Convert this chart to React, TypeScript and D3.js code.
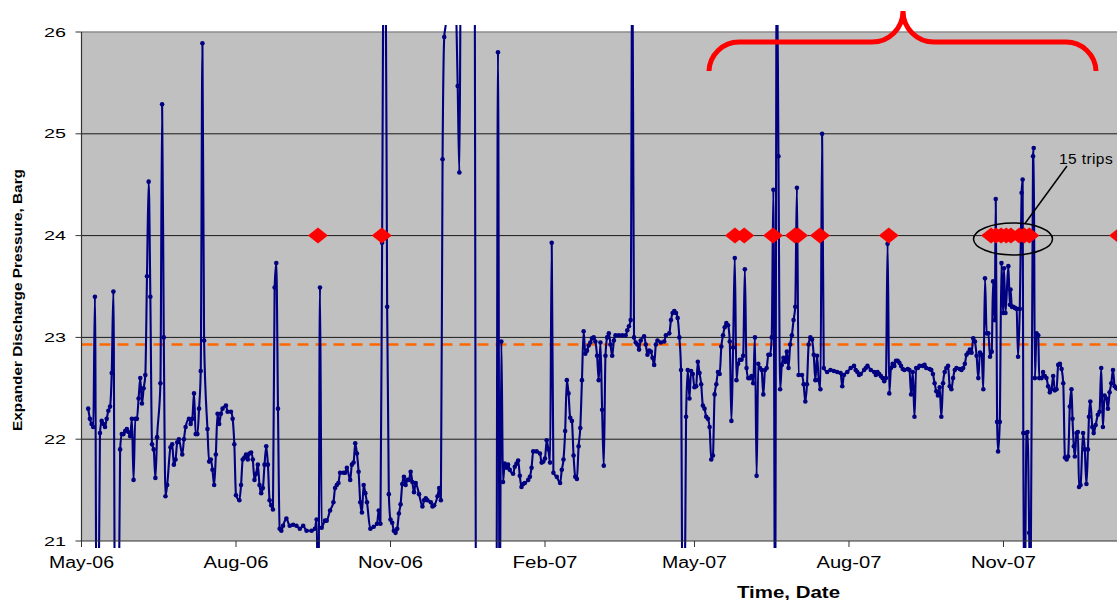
import React from "react";
import * as d3 from "d3";

// ---------- data ----------
const START = "2006-05-01"; // day 0 of the series

// day offsets since START
const dayOffset = [
  4, 5, 6, 7, 8, 9, 10, 11, 12, 13,
  14, 15, 16, 17, 18, 19, 20, 21, 22, 23,
  24, 25, 26, 27, 28, 29, 30, 31, 32, 33,
  34, 35, 36, 37, 38, 39, 40, 41, 42, 43,
  44, 45, 47, 48, 49, 50, 51, 53, 54, 55,
  56, 57, 58, 60, 61, 62, 64, 65, 66, 67,
  68, 69, 70, 71, 72, 73, 75, 76, 77, 78,
  79, 80, 81, 82, 83, 84, 86, 87, 89, 90,
  91, 92, 94, 95, 96, 97, 98, 99, 100, 101,
  102, 103, 104, 105, 106, 107, 108, 109, 110, 111,
  112, 113, 114, 115, 116, 117, 118,
  119, 120, 122, 124, 126, 128, 130, 132, 134, 137,
  139, 140, 141, 142, 143, 145, 146, 148, 150, 151,
  152, 153, 154, 156, 157, 158, 160, 161, 162, 163,
  164, 165, 166, 167, 168, 169, 170, 172, 174, 176,
  177, 178, 179, 180, 181, 182, 183, 184, 185, 186,
  187, 188, 189, 190, 191, 192, 193, 194, 195, 196,
  197, 198, 199, 201, 203, 204, 205, 206, 208, 209,
  210, 212, 213, 214, 215, 216, 217, 218, 219, 220,
  221, 222, 223, 224, 225, 226, 227, 228, 230, 232,
  234, 235, 237, 240, 243, 246, 247, 248, 249, 250,
  251,
  252, 253, 254, 255, 257, 258, 259, 260, 261, 262,
  263, 264, 266, 267, 268, 269, 271, 273, 274, 275,
  276, 277, 278, 279, 280, 281, 283, 285, 286, 287,
  288, 289, 290, 291, 292, 293, 294, 295, 296, 297,
  298, 299, 300, 301, 302, 303, 304, 305, 306, 307,
  308, 309, 310, 311, 312, 313, 314, 315, 316, 317,
  318, 320, 322, 324, 325, 326, 327, 328, 329, 330,
  331, 332, 333, 335, 336, 337, 338, 339, 340, 341,
  342, 343, 345, 347, 348, 350, 351, 352, 353, 354,
  355, 356, 357, 358, 359, 360, 361, 362, 363, 364,
  365, 366, 367, 368, 369, 370, 371, 372, 373, 374,
  375, 376, 377, 378, 379, 380, 381, 382, 383, 384,
  385, 386, 387, 388, 389, 390, 391, 392, 393, 394,
  395, 396, 397, 398, 399, 400, 401, 402, 403, 404,
  405, 406, 407, 408, 409, 410, 411, 412, 413, 414,
  415, 416, 417, 418, 419, 420, 421, 422, 423, 424,
  425, 426, 427, 429, 430, 431, 432, 433, 434, 435,
  436, 437, 438, 439, 440, 441, 442, 444, 446, 448,
  450, 452, 453, 454, 456, 458, 460, 461, 462, 463,
  464, 466, 467, 468, 470, 472, 473, 474, 475, 476,
  477, 478, 479, 480, 481, 482, 483, 484, 485, 486,
  487, 488, 489, 490, 492, 493, 494, 495, 496, 497,
  498, 499, 501, 502, 503, 505, 506, 507, 508, 509,
  510, 511, 512, 513, 514, 515, 516, 517, 518, 519,
  520, 521, 523, 524, 525, 526, 527, 528, 529, 530,
  531, 532, 533, 534, 535,
  536, 537, 538, 539, 540, 541, 542, 542.8, 543.8, 544.4,
  545.2, 545.8, 546.8, 547.8, 548.8, 549.3, 550.2, 551.9, 552.8, 553.2,
  554, 554.8, 555.8, 556.8, 557.7, 558.7, 559.8, 560.4, 560.8, 561.5,
  562.7, 563.3, 564.3, 565, 566.6, 567, 567.7, 568.7, 569.7, 570.3,
  571.7, 572.6, 573.6, 574.6, 575.6, 576.6, 577.6, 578.6, 579.6, 580.6,
  581.6, 582.6, 583.6, 584.6, 585.6, 586.6, 587.5, 588.5, 589.5, 590.1,
  590.9, 591.5, 592.5, 593.3, 594, 594.9, 596.4, 597.4, 598.4, 599.3,
  599.9, 600.7, 601.9, 602.7, 603.9, 605.2, 606.2, 607.2, 608.2, 609.2,
  610.2, 611.2, 612.2, 613.2, 614.2, 615.2, 616.2, 618,
];

// expander discharge pressure, barg (values above 26 / below 21 run off the chart)
const pressure = [
  22.3, 22.2, 22.15, 22.12, 23.4, 20, 20, 22.06, 22.18, 22.15,
  22.12, 22.2, 22.28, 22.32, 22.65, 23.45, 20, 20, 20, 21.9,
  22.05, 22.05, 22.08, 22.1, 22.07, 22.03, 22.2, 21.6, 22.2, 22.2,
  22.4, 22.6, 22.35, 22.5, 22.63, 23.6, 24.53, 23.4, 21.95, 21.9,
  21.62, 22.02, 22.55, 25.29, 23.0, 21.44, 21.55, 21.92, 21.95, 21.75,
  21.8, 21.97, 22.0, 21.85, 22.0, 22.12, 22.2, 22.15, 22.2, 22.45,
  22.05, 22.05, 22.3, 22.67, 25.89, 22.97, 22.1, 21.78, 21.8, 21.7,
  21.55, 21.85, 22.25, 22.15, 22.25, 22.3, 22.33, 22.27, 22.27, 22.2,
  21.95, 21.45, 21.4, 21.55, 21.8, 21.82, 21.85, 21.8, 21.86, 21.87,
  21.8, 21.6, 21.66, 21.75, 21.55, 21.47, 21.52, 21.75, 21.93, 21.75,
  21.4, 21.35, 21.31, 23.49, 23.73, 22.3, 21.12,
  21.1, 21.15, 21.22, 21.15, 21.16, 21.15, 21.12, 21.15, 21.1, 21.1,
  21.12, 21.21, 20, 23.49, 21.13, 21.2, 21.2, 21.3, 21.38, 21.52,
  21.55, 21.57, 21.67, 21.67, 21.67, 21.72, 21.6, 21.75, 21.77, 21.96,
  21.86, 21.68, 21.38, 21.28, 21.55, 21.47, 21.38, 21.12, 21.14, 21.17,
  21.3, 21.17, 23.93, 27, 27, 23.3, 21.46, 21.21, 21.18, 21.1,
  21.08, 21.12, 21.27, 21.36, 21.56, 21.63, 21.55, 21.6, 21.6, 21.68,
  21.58, 21.48, 21.57, 21.46, 21.34, 21.4, 21.42, 21.4, 21.38, 21.34,
  21.35, 21.44, 21.52, 21.4, 24.75, 25.95, 26.1, 27, 27, 27,
  26.1, 27, 26.3, 25.47, 24.62, 27, 26.1, 27, 27, 27,
  27, 20, 20, 20, 20, 20, 20, 25.8, 20, 22.96,
  21.58,
  21.76, 21.72, 21.75, 21.7, 21.66, 21.73, 21.76, 21.79, 21.64, 21.53,
  21.56, 21.57, 21.6, 21.63, 21.72, 21.88, 21.88, 21.86, 21.77, 21.78,
  21.81, 21.99, 21.9, 21.77, 23.93, 21.67, 21.63, 21.57, 21.7, 21.8,
  22.08, 22.58, 22.45, 22.21, 22.18, 21.84, 21.63, 21.61, 21.93, 22.11,
  22.58, 23.06, 22.84, 22.87, 22.92, 22.95, 22.99, 23.0, 22.96, 22.82,
  22.58, 22.95, 22.29, 21.74, 22.82, 23.0, 23.04, 22.93, 22.82, 22.97,
  23.02, 23.02, 23.02, 23.02, 23.07, 23.11, 23.17, 27, 23.0, 22.95,
  22.93, 22.88, 22.97, 23.01, 22.93, 22.83, 22.87, 22.86, 22.8, 22.73,
  22.93, 22.97, 22.95, 22.96, 23.02, 23.04, 23.17, 23.24, 23.26, 23.24,
  23.19, 23.0, 22.68, 20, 20, 22.22, 22.68, 22.4, 22.67, 22.64,
  22.51, 22.52, 22.76, 22.65, 22.54, 22.33, 22.3, 22.22, 22.2, 22.12,
  21.8, 21.84, 22.44, 22.54, 22.66, 22.64, 22.91, 23.02, 23.1, 23.14,
  23.12, 22.96, 22.18, 22.9, 23.78, 22.58, 22.74, 22.78, 22.78, 22.82,
  23.67, 22.7, 22.6, 22.6, 22.62, 22.55, 23.0, 21.64, 22.74, 22.7,
  22.68, 22.44, 22.68, 22.7, 22.83, 22.83, 23.0, 24.45, 20, 27,
  24.78, 22.49, 22.73, 22.8, 22.76, 22.86, 22.7, 22.93, 23.02, 23.17,
  23.3, 24.47, 22.63, 22.63, 22.54, 22.37, 22.54, 22.93, 23.0, 22.98,
  22.83, 22.58, 22.82, 22.58, 22.49, 25.0, 22.7, 22.66, 22.68, 22.67,
  22.66, 22.65, 22.52, 22.63, 22.66, 22.7, 22.72, 22.68, 22.66, 22.63,
  22.64, 22.68, 22.7, 22.72, 22.68, 22.66, 22.63, 22.66, 22.64, 22.62,
  22.6, 22.57, 22.6, 23.92, 22.45, 22.7, 22.74, 22.72, 22.77, 22.77,
  22.75, 22.72, 22.69, 22.68, 22.69, 22.68, 22.44, 22.66, 22.22, 22.7,
  22.7, 22.72, 22.72, 22.73, 22.7, 22.69, 22.68, 22.64, 22.55, 22.47,
  22.43, 22.51, 22.22, 22.55, 22.66, 22.7, 22.72, 22.52, 22.49, 22.6,
  22.68, 22.7, 22.69, 22.68, 22.7, 22.74, 22.83, 22.85, 22.88, 22.85,
  22.99, 22.96, 22.82, 22.6, 22.85,
  22.83, 22.49, 23.58, 23.04, 23.04, 22.81, 22.86, 23.55, 23.17, 24.36,
  22.17, 21.88, 22.17, 23.73, 23.24, 23.68, 23.24, 23.7, 23.32, 23.47,
  23.3, 23.3, 23.29, 23.28, 22.81, 23.28, 24.42, 24.55, 22.06, 20,
  22.06, 22.07, 21.08, 20, 24.78, 24.86, 22.6, 23.04, 23.02, 22.6,
  22.6, 22.66, 22.62, 22.6, 22.52, 22.46, 22.49, 22.62, 22.48, 22.49,
  22.73, 22.74, 22.69, 22.55, 21.82, 21.8, 21.83, 22.32, 22.49, 22.2,
  21.93, 21.83, 22.06, 22.07, 21.53, 21.55, 22.06, 21.9, 21.56, 21.9,
  22.22, 22.37, 22.12, 22.06, 22.14, 22.24, 22.27, 22.7, 22.12, 22.43,
  22.4, 22.3, 22.46, 22.55, 22.68, 22.52, 22.5, 22.45,
];

// compressor trips (plotted as red diamonds at the 24 barg line)
const tripDays = [140.8, 178.8, 389.1, 394.6, 411.8, 424.8, 426.7, 439.7, 480.7,
  541.6, 544.6, 547.6, 550.6, 553.4, 558.4, 561.4, 564.4, 617.8];
const tripLevel = 24;

const limitPressure = 22.93;

const yTicks = [21, 22, 23, 24, 25, 26];
const xTickDates = ["2006-05-01", "2006-08-01", "2006-11-01", "2007-02-01", "2007-05-01", "2007-08-01", "2007-11-01"];
const xTickLabels = ["May-06", "Aug-06", "Nov-06", "Feb-07", "May-07", "Aug-07", "Nov-07"];

const yTitle = "Expander Discharge Pressure, Barg";
const xTitle = "Time, Date";
const noteText = "15 trips";

// ---------- layout ----------
const W = 1119;
const H = 600;
const PL = 81.5;
const PR = 1117;
const PT = 32;
const PB = 541;
const FONT = "'Liberation Sans', Arial, Helvetica, sans-serif";

const parse = d3.timeParse("%Y-%m-%d");
const start = parse(START) as Date;
const toDate = (d: number) => new Date(start.getTime() + d * 86400000);

export default function App() {
  const x = d3.scaleTime().domain([start, toDate(616.6)]).range([PL, PR]);
  const y = d3.scaleLinear().domain([21, 26]).range([PB, PT]);

  const pts = dayOffset.map((d, i) => ({ date: toDate(d), v: pressure[i] }));
  const line = d3
    .line<{ date: Date; v: number }>()
    .x((p) => x(p.date))
    .y((p) => y(p.v))
    .curve(d3.curveMonotoneX);

  const diamond = (cx: number, cy: number) =>
    `M${cx - 10},${cy} L${cx},${cy - 8} L${cx + 10},${cy} L${cx},${cy + 8} Z`;

  const bracePath =
    "M709,71 A30,30 0 0 1 739,42 L872,42 A31,31 0 0 0 903,11 A31,31 0 0 0 934,42 L1066,42 A30,30 0 0 1 1096,71";

  return (
    <div style={{ position: "absolute", left: 0, top: 0 }}>
      <svg width={W} height={H} style={{ display: "block", background: "#fff" }} fontFamily={FONT}>
        <defs>
          <clipPath id="lineClip">
            <rect x={PL} y={25} width={PR - PL} height={523} />
          </clipPath>
          <clipPath id="plotClip">
            <rect x={PL} y={0} width={PR - PL} height={H} />
          </clipPath>
        </defs>

        {/* plot area */}
        <rect x={PL} y={PT} width={PR - PL} height={PB - PT} fill="#C0C0C0" />
        <line x1={PL} x2={PR} y1={PT} y2={PT} stroke="#8c8c8c" strokeWidth={1.5} />
        {yTicks.filter((t) => t > 21 && t < 26).map((t) => (
          <line key={t} x1={PL} x2={PR} y1={y(t)} y2={y(t)} stroke="#1a1a1a" strokeWidth={1} />
        ))}

        {/* limit line */}
        <line x1={PL} x2={PR} y1={y(limitPressure)} y2={y(limitPressure)}
          stroke="#FF6600" strokeWidth={2.5} strokeDasharray="11 7" />

        {/* data */}
        <g clipPath="url(#lineClip)">
          <path d={line(pts) || ""} fill="none" stroke="#000080" strokeWidth={2.1} strokeLinejoin="round" />
          {pts.map((p, i) => (
            <circle key={i} cx={x(p.date)} cy={y(p.v)} r={2.3} fill="#000080" />
          ))}
        </g>

        {/* trips */}
        <g clipPath="url(#plotClip)">
          {tripDays.map((d, i) => (
            <path key={i} d={diamond(x(toDate(d)), y(tripLevel))} fill="#FF0000" />
          ))}
        </g>

        {/* axes */}
        <line x1={PL} x2={PL} y1={PT} y2={PB} stroke="#333" strokeWidth={1.2} />
        <line x1={PL} x2={PR} y1={PB} y2={PB} stroke="#333" strokeWidth={1.2} />
        {yTicks.map((t) => (
          <g key={t}>
            <line x1={PL - 6} x2={PL} y1={y(t)} y2={y(t)} stroke="#333" strokeWidth={1} />
            <text x={66} y={y(t) + 4.5} textAnchor="end" fontSize={12.5} textLength={22}
              lengthAdjust="spacingAndGlyphs" fill="#000">{t}</text>
          </g>
        ))}
        {xTickDates.map((s, i) => {
          const px = x(parse(s) as Date);
          return (
            <g key={s}>
              <line x1={px} x2={px} y1={PB} y2={PB + 6} stroke="#333" strokeWidth={1} />
              <text x={px} y={568} textAnchor="middle" fontSize={16} textLength={65}
                lengthAdjust="spacingAndGlyphs" fill="#000">{xTickLabels[i]}</text>
            </g>
          );
        })}

        {/* titles */}
        <text x={788.5} y={598} textAnchor="middle" fontSize={16} fontWeight="bold"
          textLength={103} lengthAdjust="spacingAndGlyphs" fill="#000">{xTitle}</text>
        <text transform="translate(22,300) rotate(-90)" textAnchor="middle" fontSize={13}
          fontWeight="bold" textLength={262} lengthAdjust="spacingAndGlyphs" fill="#000">{yTitle}</text>

        {/* annotations */}
        <path d={bracePath} fill="none" stroke="#FF0000" strokeWidth={5} />
        <ellipse cx={1013} cy={239} rx={39.5} ry={16} fill="none" stroke="#000" strokeWidth={1.5} />
        <line x1={1025} y1={223.5} x2={1067} y2={166} stroke="#000" strokeWidth={1.5} />
        <text x={1059} y={164} fontSize={15.5} fill="#000" letterSpacing={0.4}>{noteText}</text>
      </svg>
    </div>
  );
}
